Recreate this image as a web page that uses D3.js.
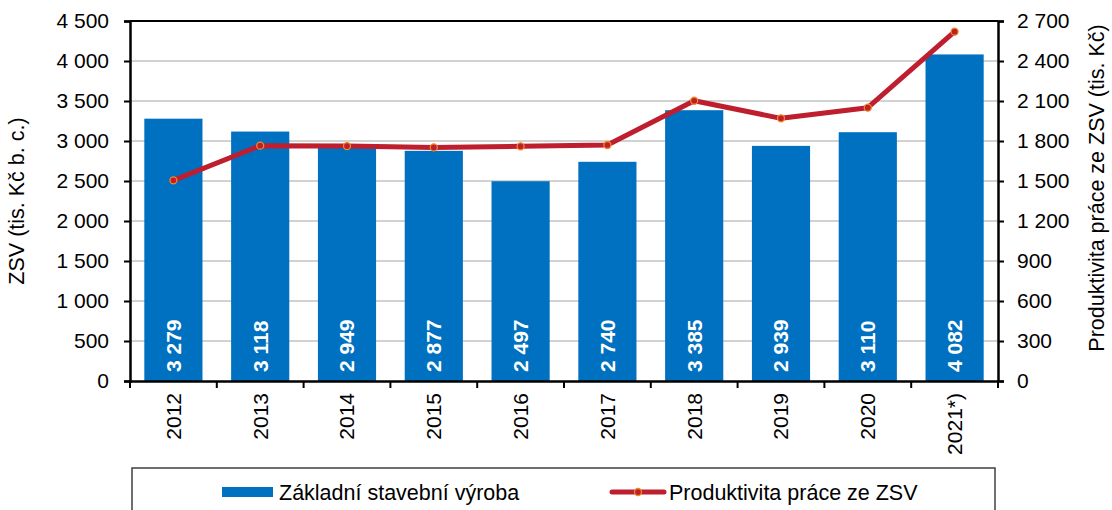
<!DOCTYPE html>
<html>
<head>
<meta charset="utf-8">
<script src="https://cdn.jsdelivr.net/npm/d3@7"></script>
<style>
  html, body { margin: 0; padding: 0; background: #fff; }
  svg { display: block; font-family: "Liberation Sans", Arial, sans-serif; }
</style>
</head>
<body>
<svg id="chart" width="1112" height="510"></svg>
<script>
const categories = ["2012", "2013", "2014", "2015", "2016", "2017", "2018", "2019", "2020", "2021*)"];
const zsvValues = [3279, 3118, 2949, 2877, 2497, 2740, 3385, 2939, 3110, 4082];
const productivityValues = [1505, 1765, 1762, 1752, 1760, 1770, 2102, 1970, 2050, 2620];
const leftTicks = [0, 500, 1000, 1500, 2000, 2500, 3000, 3500, 4000, 4500];
const rightTicks = [0, 300, 600, 900, 1200, 1500, 1800, 2100, 2400, 2700];
const seriesNames = ["Základní stavební výroba", "Produktivita práce ze ZSV"];
const leftTitle = "ZSV (tis. Kč b. c.)";
const rightTitle = "Produktivita práce ze ZSV (tis. Kč)";

const locale = d3.formatLocale({ decimal: ",", thousands: "\u00a0", grouping: [3], currency: ["", ""] });
const fmt = locale.format(",d");

const svg = d3.select("#chart");
const pL = 130, pR = 998, pT = 21, pB = 381;
const FONT = 21;
const LFONT = 21.5;

const x = d3.scaleBand().domain(categories).range([pL, pR]).paddingInner(0.33).paddingOuter(0.165);
const yL = d3.scaleLinear().domain([0, 4500]).range([pB, pT]);
const yR = d3.scaleLinear().domain([0, 2700]).range([pB, pT]);

// gridlines
svg.append("g").selectAll("line").data(leftTicks.filter(d => d > 0 && d < 4500)).join("line")
  .attr("x1", pL).attr("x2", pR)
  .attr("y1", d => yL(d)).attr("y2", d => yL(d))
  .attr("stroke", "#c3c3c3").attr("stroke-width", 1.5);

// bars
svg.append("g").selectAll("rect").data(zsvValues).join("rect")
  .attr("x", (d, i) => x(categories[i]))
  .attr("y", d => yL(d))
  .attr("width", x.bandwidth())
  .attr("height", d => pB - yL(d))
  .attr("fill", "#0070c0");

// bar labels
svg.append("g").selectAll("text").data(zsvValues).join("text")
  .attr("transform", (d, i) => `translate(${x(categories[i]) + x.bandwidth() / 2},${pB - 9}) rotate(-90)`)
  .attr("dy", "0.35em")
  .attr("text-anchor", "start")
  .attr("fill", "#fff")
  .attr("font-weight", "bold")
  .attr("font-size", FONT)
  .text(d => fmt(d));

// top frame
svg.append("line").attr("x1", pL).attr("x2", pR).attr("y1", pT).attr("y2", pT)
  .attr("stroke", "#000").attr("stroke-width", 2);

// axes
const axL = svg.append("g").attr("transform", `translate(${pL},0)`)
  .call(d3.axisLeft(yL).tickValues(leftTicks).tickFormat(fmt).tickSize(6).tickPadding(15));
const axR = svg.append("g").attr("transform", `translate(${pR},0)`)
  .call(d3.axisRight(yR).tickValues(rightTicks).tickFormat(fmt).tickSize(6).tickPadding(13));
const axB = svg.append("g").attr("transform", `translate(0,${pB})`)
  .call(d3.axisBottom(x).tickSize(0).tickFormat(d => d));

[axL, axR].forEach(a => {
  a.select(".domain").attr("stroke", "#000").attr("stroke-width", 2.5);
  a.selectAll(".tick line").attr("stroke", "#000").attr("stroke-width", 2);
  a.selectAll("text").attr("font-size", FONT).attr("fill", "#000")
    .attr("font-family", "Liberation Sans, Arial, sans-serif");
});
axB.select(".domain").attr("stroke", "#000").attr("stroke-width", 2.5);
axB.selectAll(".tick text")
  .attr("transform", "rotate(-90)")
  .attr("text-anchor", "end")
  .attr("x", -12).attr("y", 0).attr("dy", "0.35em")
  .attr("font-size", FONT).attr("fill", "#000")
  .attr("font-family", "Liberation Sans, Arial, sans-serif");
// category boundary ticks
const bounds = d3.range(categories.length + 1).map(i => pL + i * x.step());
svg.append("g").selectAll("line").data(bounds).join("line")
  .attr("x1", d => d).attr("x2", d => d)
  .attr("y1", pB).attr("y2", pB + 7)
  .attr("stroke", "#000").attr("stroke-width", 2);

// line
const line = d3.line()
  .x((d, i) => x(categories[i]) + x.bandwidth() / 2)
  .y(d => yR(d));
svg.append("path").datum(productivityValues)
  .attr("d", line)
  .attr("fill", "none").attr("stroke", "#be1e2d").attr("stroke-width", 5)
  .attr("stroke-linejoin", "round");
svg.append("g").selectAll("circle").data(productivityValues).join("circle")
  .attr("cx", (d, i) => x(categories[i]) + x.bandwidth() / 2)
  .attr("cy", d => yR(d))
  .attr("r", 3.5)
  .attr("fill", "#be1e2d").attr("stroke", "#f08a24").attr("stroke-width", 1.3);

// axis titles
svg.append("text")
  .attr("transform", `translate(24,${(pT + pB) / 2}) rotate(-90)`)
  .attr("text-anchor", "middle").attr("font-size", LFONT).attr("fill", "#000")
  .text(leftTitle);
svg.append("text")
  .attr("transform", `translate(1104,188) rotate(-90)`)
  .attr("text-anchor", "middle").attr("font-size", LFONT).attr("fill", "#000")
  .text(rightTitle);

// legend
const lg = svg.append("g");
lg.append("rect").attr("x", 132).attr("y", 468).attr("width", 863).attr("height", 70)
  .attr("fill", "#fff").attr("stroke", "#404040").attr("stroke-width", 1.5);
lg.append("rect").attr("x", 222).attr("y", 487).attr("width", 51).attr("height", 10).attr("fill", "#0070c0");
lg.append("text").attr("x", 279).attr("y", 492).attr("dy", "0.35em")
  .attr("font-size", LFONT).attr("fill", "#000").text(seriesNames[0]);
lg.append("line").attr("x1", 612).attr("x2", 664).attr("y1", 492).attr("y2", 492)
  .attr("stroke", "#be1e2d").attr("stroke-width", 5).attr("stroke-linecap", "round");
lg.append("circle").attr("cx", 638).attr("cy", 492).attr("r", 3.5)
  .attr("fill", "#be1e2d").attr("stroke", "#f08a24").attr("stroke-width", 1.3);
lg.append("text").attr("x", 669).attr("y", 492).attr("dy", "0.35em")
  .attr("font-size", LFONT).attr("fill", "#000").text(seriesNames[1]);
</script>
</body>
</html>
